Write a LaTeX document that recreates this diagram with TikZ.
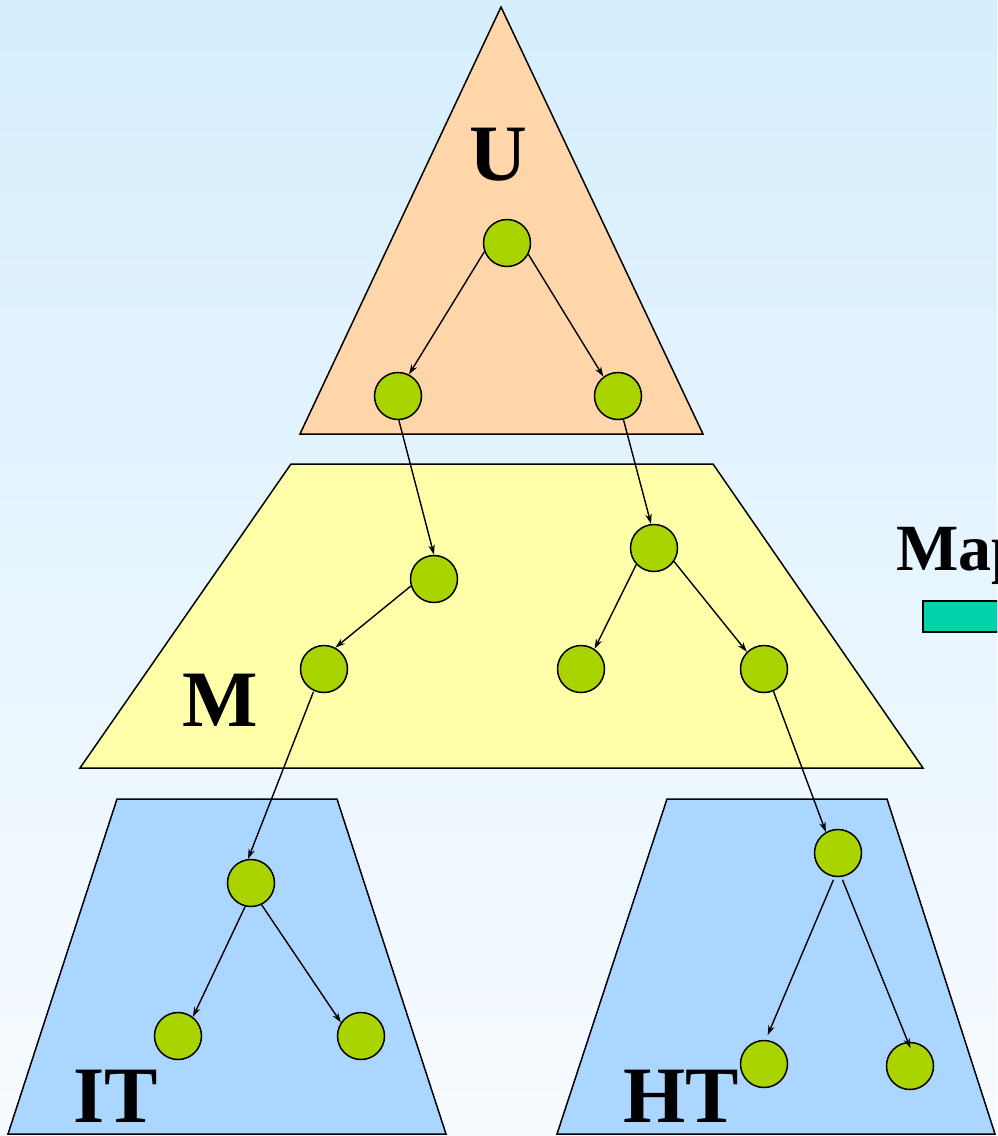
\documentclass[tikz,border=0pt]{standalone}
\usepackage{fontspec}
\setmainfont{Liberation Serif}
\usetikzlibrary{arrows.meta}
\definecolor{bgtop}{RGB}{214,238,253}
\definecolor{bgbot}{RGB}{247,251,255}
\definecolor{peach}{RGB}{255,213,170}
\definecolor{paley}{RGB}{255,255,170}
\definecolor{paleb}{RGB}{170,214,255}
\definecolor{leaf}{RGB}{170,212,0}
\definecolor{teal}{RGB}{0,210,170}
\tikzset{
  region/.style={draw=black,line width=1.5pt},
  dot/.style={circle,draw=black,fill=leaf,line width=1.5pt,minimum size=47pt,inner sep=0pt},
  link/.style={-{Stealth[length=10pt,width=6.5pt]},line width=1.4pt},
  big/.style={font=\fontsize{80}{80}\selectfont\bfseries,inner sep=0pt,text depth=0pt},
  mid/.style={font=\fontsize{66}{66}\selectfont\bfseries,inner sep=0pt,text depth=0pt}
}
\begin{document}
\begin{tikzpicture}[x=1pt,y=-1pt]
\useasboundingbox (0,0) rectangle (997,1136);
\clip (0,0) rectangle (997,1136);
\shade[top color=bgtop,bottom color=bgbot] (0,0) rectangle (997,1136);
% regions
\draw[region,fill=peach] (501,7) -- (703,434) -- (300,434) -- cycle;
\draw[region,fill=paley] (291,464) -- (713,464) -- (923,768) -- (80,768) -- cycle;
\draw[region,fill=paleb] (117,799) -- (337,799) -- (446,1134) -- (8,1134) -- cycle;
\draw[region,fill=paleb] (667,799) -- (887,799) -- (995,1134) -- (557,1134) -- cycle;
\draw[line width=1.5pt,fill=teal] (923,601) rectangle (1010,632);
% labels
\node[big,anchor=base] (lu) at (498,180) {U};
\node[big,anchor=base west] (lm) at (182,726) {M};
\node[big,anchor=base west] (lit) at (73,1122) {IT};
\node[big,anchor=base west] (lht) at (623,1122) {HT};
\node[mid,anchor=base west] (lmap) at (896,570) {Map};
% nodes
\node[dot] (u0) at (507,243) {};
\node[dot] (u1) at (398,396) {};
\node[dot] (u2) at (618,396) {};
\node[dot] (m1) at (434,579) {};
\node[dot] (m2) at (654,548) {};
\node[dot] (m3) at (324,669) {};
\node[dot] (m4) at (581,669) {};
\node[dot] (m5) at (764,669) {};
\node[dot] (i0) at (251,883) {};
\node[dot] (i1) at (178,1036) {};
\node[dot] (i2) at (361,1036) {};
\node[dot] (h0) at (838,853) {};
\node[dot] (h1) at (764,1064) {};
\node[dot] (h2) at (910,1066) {};
% connectors
\draw[link] (u0.201) -- (u1.63);
\draw[link] (u0.332) -- (u2.127);
\draw[link] (u1.272) -- (m1.90);
\draw[link] (u2.283) -- (m2.97);
\draw[link] (m1.197) -- (m3.62);
\draw[link] (m2.223) -- (m4.56);
\draw[link] (m2.326) -- (m5.135);
\draw[link,shorten <=1pt] (m3.245) -- (i0.97);
\draw[link] (m5.293) -- (h0.120);
\draw[link] (i0.256) -- (i1.52);
\draw[link] (i0.296) -- (i2.146);
\draw[link,shorten <=3pt,shorten >=5pt] (h0.262) -- (h1.86);
\draw[link,shorten <=3pt,shorten >=-7pt] (h0.278) -- (h2.95);
\end{tikzpicture}
\end{document}
